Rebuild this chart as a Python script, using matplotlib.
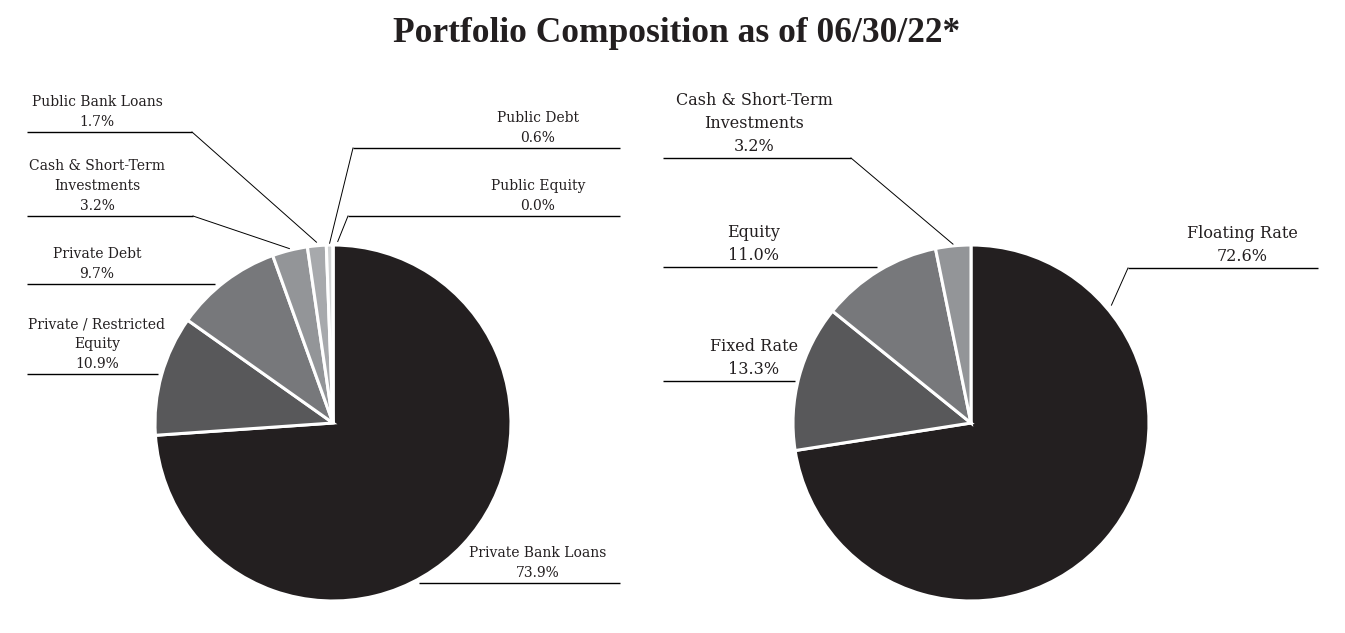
import numpy as np
import matplotlib.pyplot as plt

# data
left_labels = ["Private Bank Loans", "Private / Restricted\nEquity", "Private Debt",
               "Cash & Short-Term\nInvestments", "Public Bank Loans", "Public Debt", "Public Equity"]
left_values = [73.9, 10.9, 9.7, 3.2, 1.7, 0.6, 0.0]
right_labels = ["Floating Rate", "Fixed Rate", "Equity", "Cash & Short-Term\nInvestments"]
right_values = [72.6, 13.3, 11.0, 3.2]

left_colors = ["#231f20", "#58585a", "#77787b", "#939598", "#a7a9ac", "#d1d3d4", "#e6e7e8"]
right_colors = ["#231f20", "#58585a", "#77787b", "#939598"]

W, H = 1345, 633
TXT = "#231f20"


def Y(py):
	return H - py


fig = plt.figure(figsize=(W / 100, H / 100), dpi=100)
ax = fig.add_axes([0, 0, 1, 1])

R = 178
left_c = (333, Y(423))
right_c = (971, Y(423))

wl, _ = ax.pie(left_values, colors=left_colors, startangle=90, counterclock=False,
               center=left_c, radius=R, frame=True,
               wedgeprops=dict(edgecolor="white", linewidth=2.2))
wr, _ = ax.pie(right_values, colors=right_colors, startangle=90, counterclock=False,
               center=right_c, radius=R, frame=True,
               wedgeprops=dict(edgecolor="white", linewidth=2.2))


def label(text, value, cx, line_y, x0, x1, size, ls, wedge=None, side=None, angle=None, rr=1.0):
	s = text + "\n" + "%.1f%%" % value
	ax.text(cx, Y(line_y) + 3, s, ha="center", va="bottom", multialignment="center",
	        fontsize=size, family="DejaVu Serif", color=TXT, linespacing=ls)
	ax.plot([x0, x1], [Y(line_y), Y(line_y)], color="black", lw=1.0, solid_capstyle="butt")
	if wedge is not None:
		if angle is None:
			angle = (wedge.theta1 + wedge.theta2) / 2
		c = wedge.center
		px = c[0] + wedge.r * rr * np.cos(np.radians(angle))
		py = c[1] + wedge.r * rr * np.sin(np.radians(angle))
		sx = x1 if side == "right" else x0
		ax.plot([sx, px], [Y(line_y), py], color="black", lw=0.7)


fs_l, ls_l = 10, 1.53
fs_r, ls_r = 11.5, 1.46
# left pie labels
label(left_labels[4], left_values[4], 97, 132, 27, 192, fs_l, ls_l, wl[4], "right", rr=1.02)
label(left_labels[3], left_values[3], 97, 216, 27, 193, fs_l, ls_l, wl[3], "right", rr=1.01)
label(left_labels[2], left_values[2], 97, 284, 27, 215, fs_l, ls_l)
label(left_labels[1], left_values[1], 97, 374, 27, 158, fs_l, ls_l)
label(left_labels[5], left_values[5], 538, 148, 353, 620, fs_l, ls_l, wl[5], "left", rr=1.01)
label(left_labels[6], left_values[6], 538, 216, 348, 620, fs_l, ls_l, wl[6], "left", angle=88.5, rr=1.02)
label(left_labels[0], left_values[0], 538, 583, 419, 620, fs_l, ls_l)

# right pie labels
label(right_labels[3], right_values[3], 754, 158, 663, 851, fs_r, ls_r, wr[3], "right", rr=1.01)
label(right_labels[2], right_values[2], 754, 267, 663, 877, fs_r, ls_r)
label(right_labels[1], right_values[1], 754, 381, 663, 795, fs_r, ls_r)
label(right_labels[0], right_values[0], 1242, 268, 1128, 1318, fs_r, ls_r, wr[0], "left", angle=40, rr=1.03)

ax.text(677, Y(33), "Portfolio Composition as of 06/30/22*", ha="center", va="center",
        fontsize=25.5, fontweight="bold", family="Liberation Serif", color=TXT)

ax.set_xlim(0, W)
ax.set_ylim(0, H)
ax.set_aspect("equal")
ax.axis("off")

fig.savefig("out.png", dpi=100, facecolor="white")
